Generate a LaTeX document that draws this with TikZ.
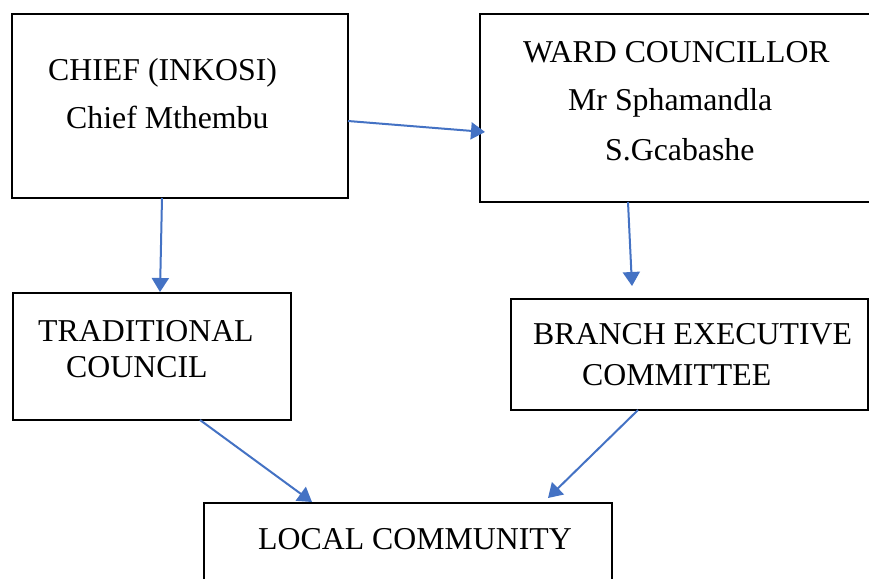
\documentclass[tikz,border=0pt]{standalone}
\usepackage{fontspec}
\setmainfont{Liberation Serif}
\usetikzlibrary{positioning, arrows.meta}
\tikzstyle{chart} = [x = 1pt, y = -1pt]
\definecolor{arrowColor}{RGB}{68,114,196}
\tikzstyle{boxStyle} = [draw=black, line width=2pt, fill=white, inner sep=0pt, outer sep=0pt]
\tikzstyle{boxText} = [inner sep=0pt, anchor=base west, font=\fontsize{31.8}{36}\selectfont]
\tikzstyle{linkStyle} = [draw=arrowColor, line width=2pt, -{Triangle[length=14pt, width=17pt]}]
\newcommand{\chartBox}[5]{\node [boxStyle, minimum width=#4, minimum height=#5] (#1) at (#2,#3) {};}
\newcommand{\boxLine}[4]{\node [boxText] (#1) at (#2,#3) {#4};}

\begin{document}
\begin{tikzpicture}[chart]
        \useasboundingbox (0,0) rectangle (869,578);
        \clip (0,0) rectangle (869,578);
        \fill [white] (0,0) rectangle (869,578);

        \chartBox{chief}{180}{106}{336pt}{184pt}
        \chartBox{ward}{682.5}{108}{405pt}{188pt}
        \chartBox{trad}{152}{356.5}{278pt}{127pt}
        \chartBox{branch}{689.5}{354.5}{357pt}{111pt}
        \chartBox{local}{408}{556.5}{408pt}{107pt}

        \boxLine{chiefTitle}{48}{80}{CHIEF (INKOSI)}
        \boxLine{chiefName}{66}{128}{Chief Mthembu}
        \boxLine{wardTitle}{523}{63}{WARD COUNCILLOR}
        \boxLine{wardName}{568}{110}{Mr Sphamandla}
        \boxLine{wardSurname}{605}{160}{S.Gcabashe}
        \boxLine{tradTitle}{38}{341}{TRADITIONAL}
        \boxLine{tradSecond}{66}{377}{COUNCIL}
        \boxLine{branchTitle}{533}{344}{BRANCH EXECUTIVE}
        \boxLine{branchSecond}{582}{385}{COMMITTEE}
        \boxLine{localTitle}{258}{549}{LOCAL COMMUNITY}

        \draw [linkStyle] ([yshift=-15pt]chief.east) -- ([xshift=5pt, yshift=-24pt]ward.west);
        \draw [linkStyle] ([xshift=-18pt]chief.south) -- ([xshift=8pt, yshift=1pt]trad.north);
        \draw [linkStyle] ([xshift=-54.5pt]ward.south) -- ([xshift=-57.5pt, yshift=13pt]branch.north);
        \draw [linkStyle] ([xshift=48pt]trad.south) -- ([xshift=-96pt, yshift=1pt]local.north);
        \draw [linkStyle] ([xshift=-51.5pt]branch.south) -- ([xshift=140pt, yshift=5pt]local.north);
      \end{tikzpicture}
\end{document}
